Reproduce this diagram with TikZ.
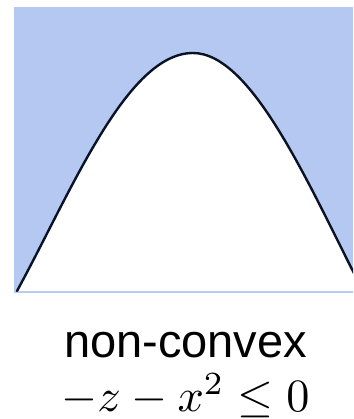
\documentclass[tikz,border=0pt]{standalone}
\usepackage{fontspec}
\newfontfamily\labelfont{Liberation Sans}
\definecolor{regionblue}{RGB}{180,200,241}
\definecolor{curveink}{RGB}{10,18,38}
\tikzset{
  curveline/.style={draw=curveink, line width=2.4pt, line cap=round},
  labeltext/.style={inner sep=0pt},
}
\begin{document}
\begin{tikzpicture}[x=1pt,y=-1pt]
\useasboundingbox (0,0) rectangle (353,419);
\def\curvepath{(17,291) .. controls (72,190) and (127,53) .. (193,53) .. controls (253,53) and (311,190) .. (363,291)}
\begin{scope}
\clip (14,7) rectangle (353,292);
\fill[regionblue] (14,7) rectangle (353,292);
\fill[white] \curvepath -- cycle;
\draw[curveline] \curvepath;
\end{scope}
\draw[regionblue, line width=1pt] (14,292) -- (353,292);
\node[labeltext, anchor=base] (lbl) at (185.5,357) {\labelfont\fontsize{47}{50}\selectfont non-convex};
\node[labeltext, anchor=south] (eq) at (185.5,418) {\resizebox{248pt}{!}{$-z-x^2\leq 0$}};
\end{tikzpicture}
\end{document}
